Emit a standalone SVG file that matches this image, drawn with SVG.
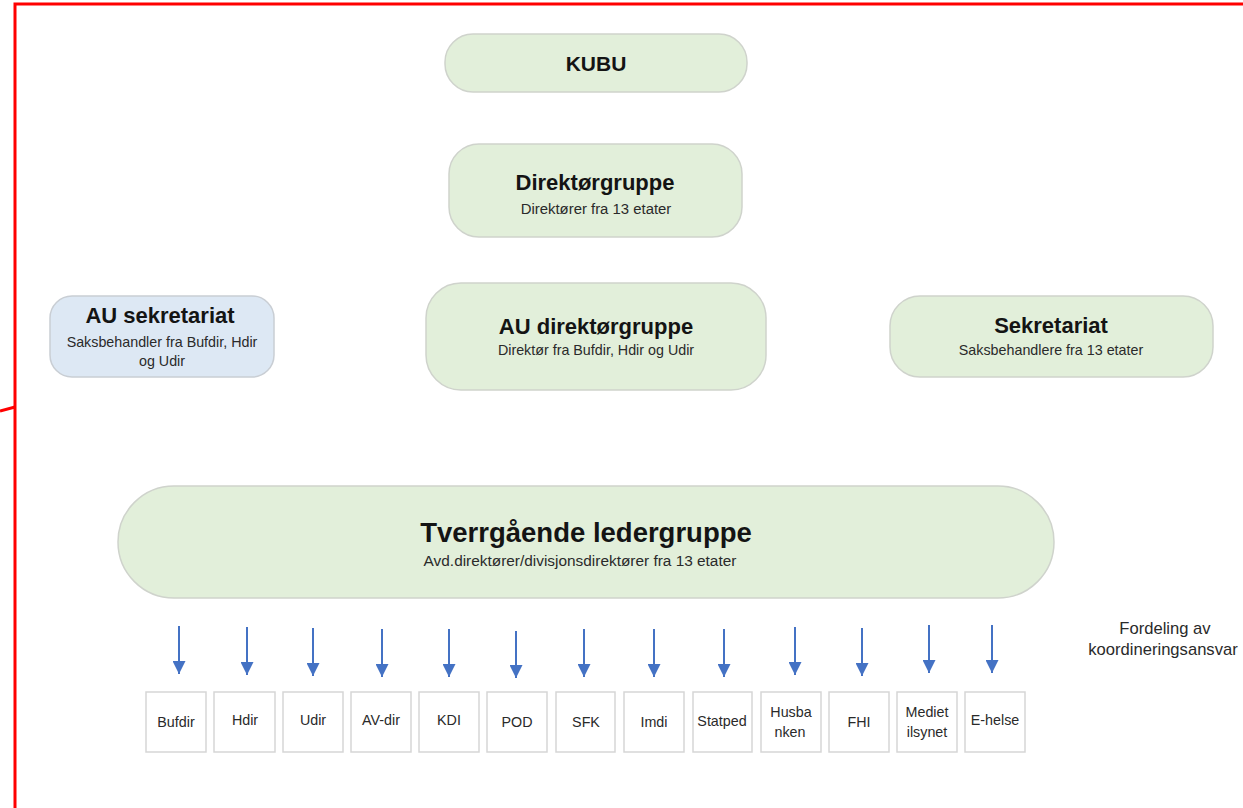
<svg xmlns="http://www.w3.org/2000/svg" width="1243" height="808" viewBox="0 0 1243 808">
<style>
.n{fill:#e2efda;stroke:#cfd3cc;stroke-width:1.5}
.nb{fill:#dde8f4;stroke:#c9ced4;stroke-width:1.5}
.b{fill:#ffffff;stroke:#d6d6d6;stroke-width:1.5}
.t{font-family:"Liberation Sans",Arial,sans-serif;font-weight:bold;fill:#141414;text-anchor:middle}
.s{font-family:"Liberation Sans",Arial,sans-serif;fill:#2a2a2a;text-anchor:middle}
.l{font-family:"Liberation Sans",Arial,sans-serif;fill:#2a2a2a;text-anchor:middle;font-size:14.3px}
.c{stroke:#4472c4;stroke-width:2;fill:none}
.r{stroke:#ff0000;stroke-width:3;fill:none}
</style>
<defs>
<marker id="ah" viewBox="0 0 10 10" refX="10" refY="5" markerWidth="6.5" markerHeight="6.5" markerUnits="strokeWidth" orient="auto">
<path d="M0,0 L10,5 L0,10 z" fill="#4472c4"/>
</marker>
</defs>
<rect width="1243" height="808" fill="#ffffff"/>
<g id="frame">
<path class="r" d="M15,808 L15,4 L1243,4"/>
<path class="r" d="M0,411 L15,407" stroke-width="2.5"/>
</g>
<g id="kubu">
<rect class="n" x="445" y="34" width="302" height="58" rx="28"/>
<text class="t" x="596" y="71" font-size="21">KUBU</text>
</g>
<g id="direktorgruppe">
<rect class="n" x="449" y="144" width="293" height="93" rx="30"/>
<text class="t" x="595" y="190" font-size="22">Direktørgruppe</text>
<text class="s" x="596" y="214" font-size="14.9">Direktører fra 13 etater</text>
</g>
<g id="au-sekretariat">
<rect class="nb" x="50" y="296" width="224" height="81" rx="22"/>
<text class="t" x="160" y="323" font-size="22">AU sekretariat</text>
<text class="s" x="162" y="347" font-size="14.3">Saksbehandler fra Bufdir, Hdir</text>
<text class="s" x="162" y="366" font-size="14.3">og Udir</text>
</g>
<g id="au-direktorgruppe">
<rect class="n" x="426" y="283" width="340" height="107" rx="35"/>
<text class="t" x="596" y="334" font-size="22">AU direktørgruppe</text>
<text class="s" x="596" y="355" font-size="14.3">Direktør fra Bufdir, Hdir og Udir</text>
</g>
<g id="sekretariat">
<rect class="n" x="890" y="296" width="323" height="81" rx="30"/>
<text class="t" x="1051" y="333" font-size="22">Sekretariat</text>
<text class="s" x="1051" y="355" font-size="14.3">Saksbehandlere fra 13 etater</text>
</g>
<g id="tverrgaende">
<rect class="n" x="118" y="486" width="936" height="112" rx="56"/>
<text class="t" x="586" y="542" font-size="27.5">Tverrgående ledergruppe</text>
<text class="s" x="580" y="566" font-size="15.4">Avd.direktører/divisjonsdirektører fra 13 etater</text>
</g>
<g id="fordeling">
<text class="s" x="1165" y="634" font-size="16.6">Fordeling av</text>
<text class="s" x="1163" y="655" font-size="16.6">koordineringsansvar</text>
</g>
<g id="connectors">
<line class="c" x1="179" y1="626" x2="179" y2="674" marker-end="url(#ah)"/>
<line class="c" x1="247" y1="627" x2="247" y2="675" marker-end="url(#ah)"/>
<line class="c" x1="313" y1="628" x2="313" y2="676" marker-end="url(#ah)"/>
<line class="c" x1="382" y1="629" x2="382" y2="677" marker-end="url(#ah)"/>
<line class="c" x1="449" y1="629" x2="449" y2="677" marker-end="url(#ah)"/>
<line class="c" x1="516" y1="631" x2="516" y2="678" marker-end="url(#ah)"/>
<line class="c" x1="584" y1="629" x2="584" y2="677" marker-end="url(#ah)"/>
<line class="c" x1="654" y1="629" x2="654" y2="677" marker-end="url(#ah)"/>
<line class="c" x1="724" y1="629" x2="724" y2="677" marker-end="url(#ah)"/>
<line class="c" x1="795" y1="627" x2="795" y2="675" marker-end="url(#ah)"/>
<line class="c" x1="862" y1="628" x2="862" y2="676" marker-end="url(#ah)"/>
<line class="c" x1="929" y1="625" x2="929" y2="673" marker-end="url(#ah)"/>
<line class="c" x1="992" y1="625" x2="992" y2="673" marker-end="url(#ah)"/>
</g>
<g id="bufdir"><rect class="b" x="146" y="692" width="60" height="60"/><text class="l" x="176" y="727">Bufdir</text></g>
<g id="hdir"><rect class="b" x="214" y="692" width="61" height="60"/><text class="l" x="245" y="725">Hdir</text></g>
<g id="udir"><rect class="b" x="283" y="692" width="60" height="60"/><text class="l" x="313" y="725">Udir</text></g>
<g id="av-dir"><rect class="b" x="351" y="692" width="60" height="60"/><text class="l" x="381" y="725">AV-dir</text></g>
<g id="kdi"><rect class="b" x="419" y="692" width="60" height="60"/><text class="l" x="449" y="725">KDI</text></g>
<g id="pod"><rect class="b" x="487" y="692" width="60" height="60"/><text class="l" x="517" y="727">POD</text></g>
<g id="sfk"><rect class="b" x="556" y="692" width="59" height="60"/><text class="l" x="586" y="727">SFK</text></g>
<g id="imdi"><rect class="b" x="624" y="692" width="60" height="60"/><text class="l" x="654" y="727">Imdi</text></g>
<g id="statped"><rect class="b" x="693" y="692" width="59" height="60"/><text class="l" x="722" y="726" font-size="12.5">Statped</text></g>
<g id="husbanken"><rect class="b" x="761" y="692" width="60" height="60"/><text class="l" x="791" y="717">Husba</text><text class="l" x="790" y="737">nken</text></g>
<g id="fhi"><rect class="b" x="829" y="692" width="60" height="60"/><text class="l" x="859" y="727">FHI</text></g>
<g id="medietilsynet"><rect class="b" x="897" y="692" width="60" height="60"/><text class="l" x="927" y="717">Mediet</text><text class="l" x="927" y="737">ilsynet</text></g>
<g id="e-helse"><rect class="b" x="965" y="692" width="60" height="60"/><text class="l" x="995" y="725">E-helse</text></g>
</svg>
